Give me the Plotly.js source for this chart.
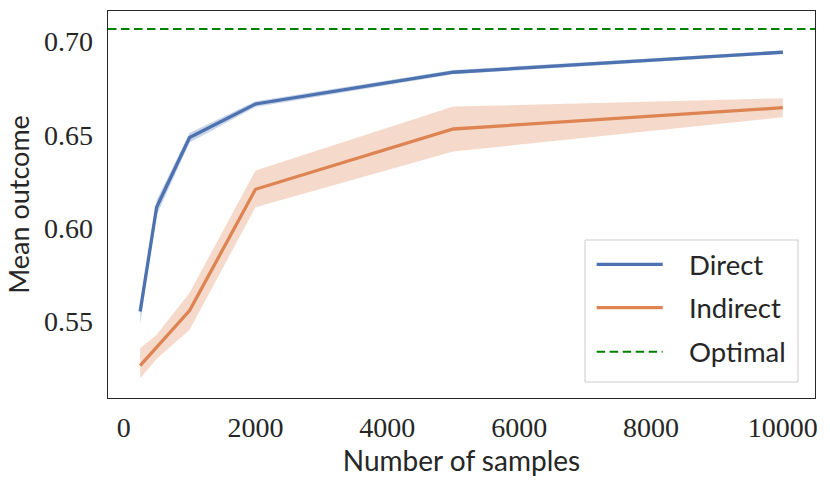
<!DOCTYPE html>
<html>
<head>
<meta charset="utf-8">
<script src="https://cdn.plot.ly/plotly-3.0.1.min.js"></script>
<style>html,body{margin:0;padding:0;background:#fff;}#chart{width:830px;height:483px;}</style>
</head>
<body>
<div id="chart"></div>
<script>
// ---- data ----
const samples = [250, 500, 1000, 2000, 5000, 10000];
const directMean  = [0.5554, 0.6113, 0.6486, 0.6666, 0.6836, 0.6943];
const directLow   = [0.5490, 0.6070, 0.6460, 0.6650, 0.6825, 0.6935];
const directHigh  = [0.5570, 0.6150, 0.6510, 0.6680, 0.6848, 0.6952];
const indirectMean = [0.5264, 0.5362, 0.5559, 0.6209, 0.6532, 0.6646];
const indirectLow  = [0.5197, 0.5300, 0.5456, 0.6113, 0.6411, 0.6595];
const indirectHigh = [0.5357, 0.5430, 0.5655, 0.6309, 0.6652, 0.6697];
const optimalValue = 0.7068;
const seriesNames = ['Direct', 'Indirect', 'Optimal'];
const xTicks = [0, 2000, 4000, 6000, 8000, 10000];
const yTicks = [0.55, 0.60, 0.65, 0.70];

// ---- styles ----
const blue = '#4c72b0', orange = '#dd8452', green = '#008000';
const blueBand = 'rgba(76,114,176,0.30)', orangeBand = 'rgba(221,132,82,0.30)';
const serif = 'Liberation Serif, DejaVu Serif, serif';
const sans = 'Lato, Noto Sans, sans-serif';

function band(x, lo, hi, color) {
  return {
    x: x.concat(x.slice().reverse()),
    y: hi.concat(lo.slice().reverse()),
    type: 'scatter', mode: 'lines', fill: 'toself',
    fillcolor: color, line: {width: 0}, hoverinfo: 'skip', showlegend: false
  };
}

const traces = [
  band(samples, directLow, directHigh, blueBand),
  band(samples, indirectLow, indirectHigh, orangeBand),
  {x: samples, y: directMean, type: 'scatter', mode: 'lines', name: seriesNames[0],
   line: {color: blue, width: 3.3}, showlegend: false},
  {x: samples, y: indirectMean, type: 'scatter', mode: 'lines', name: seriesNames[1],
   line: {color: orange, width: 3.3}, showlegend: false}
];

// custom legend geometry (paper coords)
const legBox = {x0: 0.6747, x1: 0.9760, y0: 0.0413, y1: 0.4083};
const legLineX = [0.6912, 0.7846];
const legTextX = 0.8194;
const legY = [0.3455, 0.2333, 0.1196];
const legColors = [blue, orange, green];

const shapes = [
  {type: 'line', xref: 'paper', x0: 0, x1: 1, yref: 'y', y0: optimalValue, y1: optimalValue,
   line: {color: green, width: 2, dash: '8.5px,4.5px'}},
  {type: 'rect', xref: 'paper', yref: 'paper', x0: legBox.x0, x1: legBox.x1, y0: legBox.y0, y1: legBox.y1,
   line: {color: '#cccccc', width: 1}, fillcolor: 'rgba(255,255,255,0.85)'}
];
const annotations = [];
seriesNames.forEach((n, i) => {
  shapes.push({type: 'line', xref: 'paper', yref: 'paper', x0: legLineX[0], x1: legLineX[1],
    y0: legY[i], y1: legY[i],
    line: {color: legColors[i], width: i === 2 ? 2 : 3.3, dash: i === 2 ? '8.5px,4.5px' : 'solid'}});
  annotations.push({xref: 'paper', yref: 'paper', x: legTextX, y: legY[i], text: n,
    showarrow: false, xanchor: 'left', yanchor: 'middle',
    font: {family: sans, size: 27.5, color: '#262626'}});
});

const layout = {
  width: 830, height: 483,
  margin: {l: 108, r: 15, t: 11, b: 85},
  paper_bgcolor: '#fff', plot_bgcolor: '#fff',
  showlegend: false,
  xaxis: {
    range: [-237.5, 10487.5], tickvals: xTicks, ticktext: xTicks.map(String),
    showgrid: false, zeroline: false, ticks: '', showline: true, mirror: true,
    linecolor: '#262626', linewidth: 1.3,
    tickfont: {family: serif, size: 28, color: '#262626'}, ticklabelstandoff: 4,
    title: {text: 'Number of samples', font: {family: sans, size: 28, color: '#262626'}, standoff: 4}
  },
  yaxis: {
    range: [0.5091, 0.7164], tickvals: yTicks, ticktext: yTicks.map(v => v.toFixed(2)),
    showgrid: false, zeroline: false, ticks: '', showline: true, mirror: true,
    linecolor: '#262626', linewidth: 1.3,
    tickfont: {family: serif, size: 28, color: '#262626'}, ticklabelstandoff: 8,
    title: {text: 'Mean outcome', font: {family: sans, size: 27, color: '#262626'}, standoff: 6}
  },
  shapes: shapes,
  annotations: annotations
};

Plotly.newPlot('chart', traces, layout, {displayModeBar: false, staticPlot: true});
</script>
</body>
</html>
